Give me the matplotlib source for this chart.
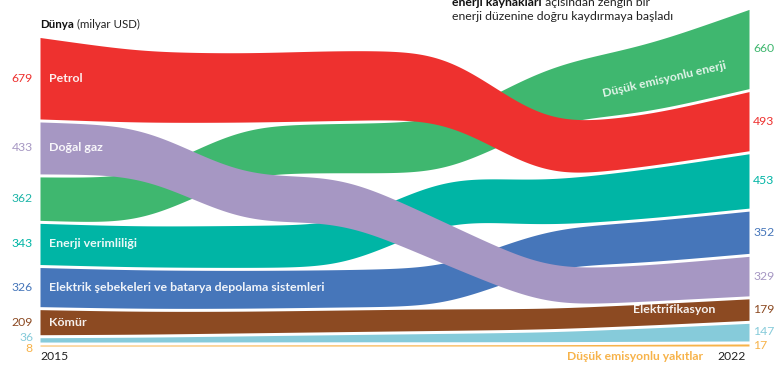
import numpy as np
import matplotlib.pyplot as plt

plt.rcParams['font.family'] = ['Lato', 'DejaVu Sans']

years = [2015, 2016, 2017, 2018, 2019, 2020, 2021, 2022]

# yatırım, milyar USD
petrol = [679, 590, 575, 585, 560, 440, 425, 493]
dogal_gaz = [433, 410, 385, 380, 350, 300, 300, 329]
dusuk_emisyonlu_enerji = [362, 380, 400, 410, 430, 470, 560, 660]
enerji_verimliligi = [343, 340, 350, 355, 360, 370, 410, 453]
sebekeler = [326, 320, 315, 310, 320, 320, 340, 352]
komur = [209, 190, 180, 180, 180, 170, 175, 179]
elektrifikasyon = [36, 40, 50, 60, 70, 80, 110, 147]
yakitlar = [8, 8, 9, 10, 10, 11, 14, 17]

series = [petrol, dogal_gaz, dusuk_emisyonlu_enerji, enerji_verimliligi,
          sebekeler, komur, elektrifikasyon, yakitlar]
colors = ['#ee312f', '#a697c3', '#3fb76f', '#00b5a5',
          '#4676ba', '#8c4a22', '#86cbda', '#f7b34a']
left_names = ['Petrol', 'Doğal gaz', None, 'Enerji verimliliği',
              'Elektrik şebekeleri ve batarya depolama sistemleri', 'Kömür', None, None]
left_label_colors = ['#ee312f', '#a697c3', '#1db5a8', '#00b5a5',
                     '#4676ba', '#8c4a22', '#86cbda', '#f7b34a']
zorders = [3, 5, 2, 2, 2, 2, 2, 2]

W, H = 781, 366
X0, X1 = 40, 749          # 2015 and 2022 in pixels
BASE = 346                # stack baseline in pixels
K = 0.12                  # pixels per billion USD
GAP = 25                  # gap between bands, in data units

ppy = (X1 - X0) / (years[-1] - years[0])

fig = plt.figure(figsize=(W / 100, H / 100), dpi=100)
ax = fig.add_axes([0, 0, 1, 1])
ax.set_xlim(years[0] - X0 / ppy, years[0] + (W - X0) / ppy)
ax.set_ylim(-(H - BASE) / K, BASE / K)
ax.axis('off')


def px_x(p):
    return years[0] + (p - X0) / ppy


def px_y(p):
    return (BASE - p) / K


vals = np.array(series, dtype=float)
nb, ny = vals.shape

# stack each year largest on top, smallest at the bottom
bottoms = np.zeros_like(vals)
for j in range(ny):
    level = 0.0
    for i in np.argsort(vals[:, j]):
        bottoms[i, j] = level
        level += vals[i, j] + GAP
tops = bottoms + vals

xs = np.linspace(years[0], years[-1], 701)


def smooth(y, sigma=0.33):
    step = xs[1] - xs[0]
    s = sigma / step
    n = int(3 * s)
    t = np.arange(-n, n + 1)
    kern = np.exp(-0.5 * (t / s) ** 2)
    kern /= kern.sum()
    left = 2 * y[0] - y[n:0:-1]
    right = 2 * y[-1] - y[-2:-n - 2:-1]
    return np.convolve(np.concatenate([left, y, right]), kern, mode='valid')


for i in range(nb):
    lo = smooth(np.interp(xs, years, bottoms[i]))
    hi = smooth(np.interp(xs, years, tops[i]))
    ax.fill_between(xs, lo, hi, color=colors[i], lw=0, zorder=zorders[i])


def spread(centers, min_px=11):
    # keep value labels of thin bands from colliding
    c = list(centers)
    order = np.argsort(c)
    for a, b in zip(order[:-1], order[1:]):
        d = (c[b] - c[a]) * K
        if d < min_px:
            shift = (min_px - d) / 2 / K
            c[a] -= shift
            c[b] += shift
    return c


lc = spread(bottoms[:, 0] + vals[:, 0] / 2)
rc = spread(bottoms[:, -1] + vals[:, -1] / 2, min_px=14)

for i in range(nb):
    ax.text(px_x(33), lc[i], f'{series[i][0]:.0f}', color=left_label_colors[i],
            ha='right', va='center', fontsize=8.8)
    ax.text(px_x(753), rc[i], f'{series[i][-1]:.0f}', color=colors[i],
            ha='left', va='center', fontsize=8.8)
    if left_names[i]:
        ax.text(px_x(49), bottoms[i, 0] + vals[i, 0] / 2, left_names[i],
                color='white', ha='left', va='center', fontsize=8.9,
                fontweight='bold', zorder=10, alpha=0.92)

ax.text(px_x(715), bottoms[5, -1] + vals[5, -1] / 2, 'Elektrifikasyon',
        color='white', ha='right', va='center', fontsize=8.9,
        fontweight='bold', zorder=10, alpha=0.92)
ax.text(px_x(664), px_y(79), 'Düşük emisyonlu enerji', color='white',
        ha='center', va='center', fontsize=8.7, fontweight='bold',
        rotation=13, rotation_mode='anchor', zorder=10, alpha=0.85)
ax.text(px_x(703), px_y(357), 'Düşük emisyonlu yakıtlar', color='#f7b34a',
        ha='right', va='center', fontsize=8.7, fontweight='bold')
ax.text(px_x(40), px_y(356), '2015', color='#222222', ha='left',
        va='center', fontsize=8.7)
ax.text(px_x(746), px_y(356), '2022', color='#222222', ha='right',
        va='center', fontsize=8.7)

t = ax.text(px_x(40), px_y(24), 'Dünya', color='#111111', ha='left',
            va='center', fontsize=8.3, fontweight='bold')
ax.annotate(' (milyar USD)', xy=(1, 0.5), xycoords=t, ha='left', va='center',
            fontsize=8.3, color='#222222')

t1 = ax.text(px_x(452), px_y(2), 'enerji kaynakları', color='#111111',
             ha='left', va='center', fontsize=8.8, fontweight='bold')
ax.annotate(' açısından zengin bir', xy=(1, 0.5), xycoords=t1, ha='left',
            va='center', fontsize=8.8, color='#222222')
ax.text(px_x(452), px_y(17), 'enerji düzenine doğru kaydırmaya başladı',
        color='#222222', ha='left', va='center', fontsize=8.8)

fig.savefig('out.png', dpi=100)
